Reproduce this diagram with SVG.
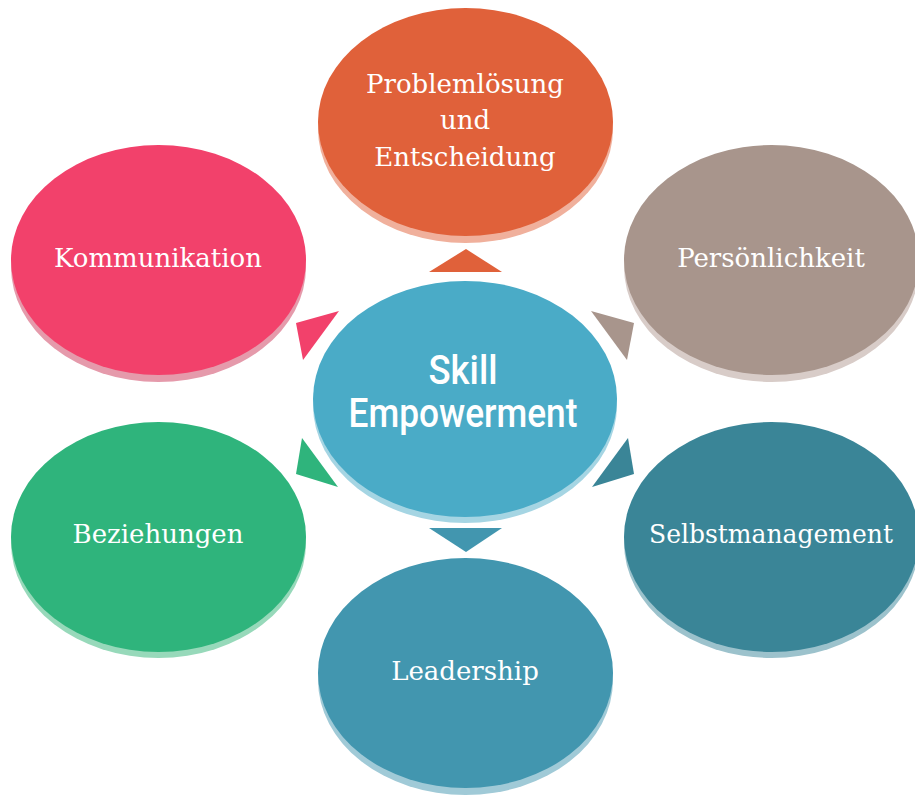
<svg xmlns="http://www.w3.org/2000/svg" width="915" height="796" viewBox="0 0 915 796">
<style>
.lbl{font-family:"DejaVu Serif","Liberation Serif",serif;font-size:26px;fill:#ffffff;text-anchor:middle}
.ctr{font-family:Roboto,"Liberation Sans",sans-serif;font-size:40px;font-weight:500;fill:#ffffff;text-anchor:middle}
</style>
<rect width="915" height="796" fill="#ffffff"/>
<g id="connectors">
<polygon points="466,249 429,272 502,272" fill="#E0613A"/>
<polygon points="339,311 296,323 303,360" fill="#F2416B"/>
<polygon points="591,311 634,323 627,360" fill="#A8958C"/>
<polygon points="628,438 634,474 592,487" fill="#3A8597"/>
<polygon points="302,438 296,474 338,487" fill="#2FB47C"/>
<polygon points="429,528 502,528 466,552" fill="#4296AF"/>
</g>
<g id="node-center">
<ellipse cx="465" cy="405" rx="152" ry="118" fill="#A5D5E3"/>
<ellipse cx="465" cy="399" rx="152" ry="118" fill="#4AABC7"/>
<text class="ctr" x="463" y="384" textLength="69" lengthAdjust="spacingAndGlyphs">Skill</text>
<text class="ctr" x="463" y="427" textLength="229" lengthAdjust="spacingAndGlyphs">Empowerment</text>
</g>
<g id="node-problem">
<ellipse cx="465.5" cy="129" rx="147.5" ry="114" fill="#F0B09C"/>
<ellipse cx="465.5" cy="122" rx="147.5" ry="114" fill="#E0613A"/>
<text class="lbl" x="465" y="93">Problemlösung</text>
<text class="lbl" x="465" y="129">und</text>
<text class="lbl" x="465" y="166">Entscheidung</text>
</g>
<g id="node-kommunikation">
<ellipse cx="158.5" cy="267" rx="147.5" ry="115" fill="#E59AAB"/>
<ellipse cx="158.5" cy="260" rx="147.5" ry="115" fill="#F2416B"/>
<text class="lbl" x="158" y="267">Kommunikation</text>
</g>
<g id="node-persoenlichkeit">
<ellipse cx="771.5" cy="267" rx="147.5" ry="115" fill="#D8CCC8"/>
<ellipse cx="771.5" cy="260" rx="147.5" ry="115" fill="#A8958C"/>
<text class="lbl" x="771" y="267">Persönlichkeit</text>
</g>
<g id="node-selbstmanagement">
<ellipse cx="771.5" cy="543" rx="147.5" ry="115" fill="#9CC2CC"/>
<ellipse cx="771.5" cy="537" rx="147.5" ry="115" fill="#3A8597"/>
<text class="lbl" x="771" y="543" textLength="244" lengthAdjust="spacingAndGlyphs">Selbstmanagement</text>
</g>
<g id="node-beziehungen">
<ellipse cx="158.5" cy="543" rx="147.5" ry="115" fill="#97D9BA"/>
<ellipse cx="158.5" cy="537" rx="147.5" ry="115" fill="#2FB47C"/>
<text class="lbl" x="158" y="543">Beziehungen</text>
</g>
<g id="node-leadership">
<ellipse cx="465.5" cy="680" rx="147.5" ry="115" fill="#A0CAD7"/>
<ellipse cx="465.5" cy="673" rx="147.5" ry="115" fill="#4296AF"/>
<text class="lbl" x="465" y="680">Leadership</text>
</g>
</svg>
